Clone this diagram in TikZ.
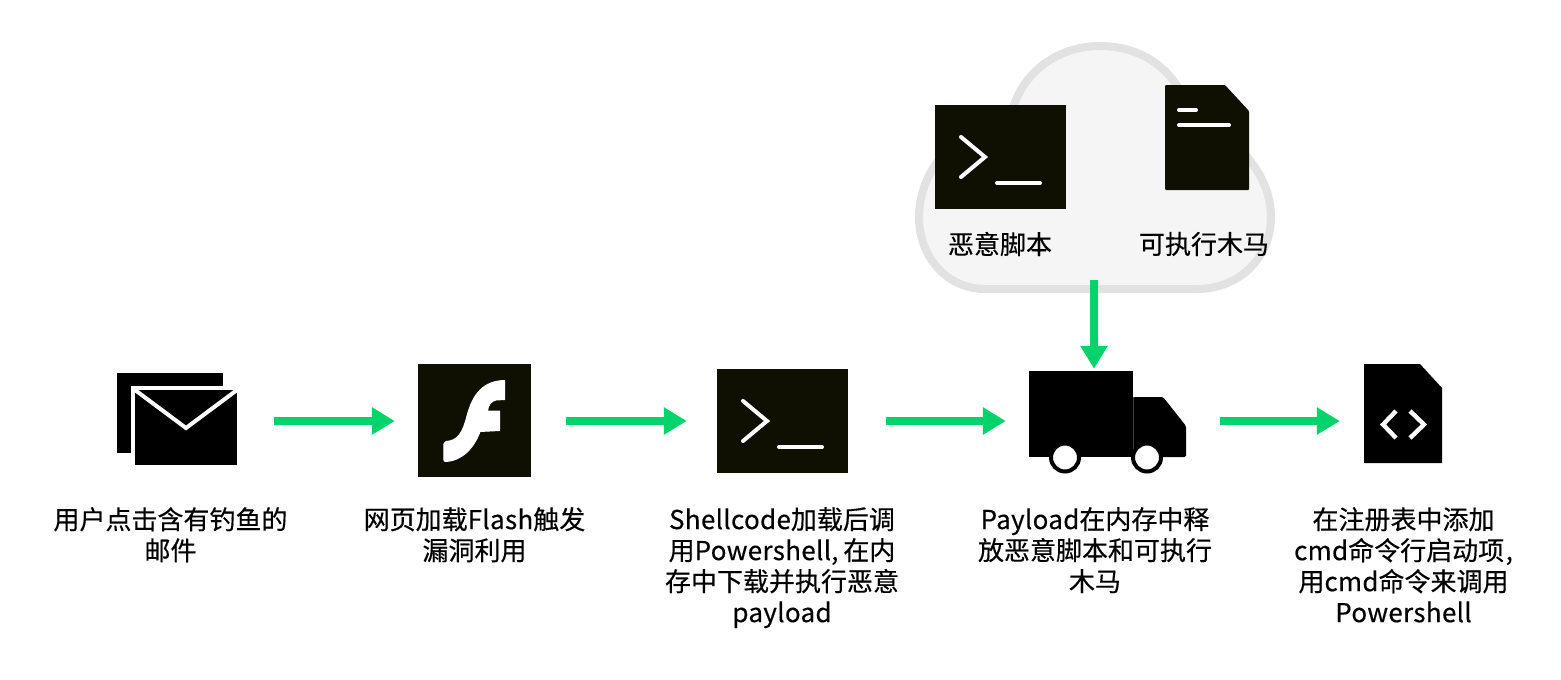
\documentclass[tikz,border=0pt]{standalone}
\usepackage{fontspec}
\setmainfont{Noto Sans CJK SC}[FakeBold=0.35]
\newcommand{\lat}[1]{{\addfontfeature{LetterSpace=1.2}#1}}
\usetikzlibrary{arrows.meta}
\definecolor{flowgreen}{HTML}{02D36B}
\definecolor{termdark}{HTML}{0F0F02}
\definecolor{cloudfill}{HTML}{F5F5F5}
\definecolor{cloudline}{HTML}{E2E2E2}
\tikzset{
  flow/.style={draw=flowgreen,line width=8pt,-{Triangle[length=23pt,width=26pt,fill=flowgreen]}},
  caption/.style={align=center,anchor=north,inner sep=0pt,font=\fontsize{26pt}{31pt}\selectfont,text=black},
  label/.style={inner sep=0pt,font=\fontsize{26pt}{31pt}\selectfont,text=black},
  term/.style={fill=termdark,draw=none,rectangle,inner sep=0pt,minimum width=131pt,minimum height=104pt},
  glyph/.style={draw=white,line width=4pt,line cap=round,line join=miter},
  wheel/.style={fill=white,draw=black,line width=4pt},
}
\begin{document}
\begin{tikzpicture}[x=1pt,y=-1pt]
\useasboundingbox (0,0) rectangle (1561,680);
% cloud
\draw[fill=cloudfill,draw=cloudline,line width=8pt]
  (985,289) .. controls (947,289) and (919,257) .. (919,217)
  .. controls (919,195) and (927,175) .. (940,158)
  .. controls (955,140) and (985,120) .. (1012,112)
  .. controls (1022,72) and (1058,46) .. (1100,46)
  .. controls (1135,46) and (1163,62) .. (1180,90)
  .. controls (1210,110) and (1235,135) .. (1248,158)
  .. controls (1262,175) and (1271,195) .. (1271,217)
  .. controls (1271,257) and (1240,289) .. (1197,289) -- cycle;
\node[inner sep=0pt,minimum width=360pt,minimum height=251pt] (cloud) at (1094,167.5) {};
% terminal in cloud
\node[term] (script) at (1000.5,157) {};
\draw[glyph] (961,137) -- (985,157) -- (961,177);
\draw[glyph] (997,183) -- (1040,183);
\node[label] (scriptlabel) at (1000,244) {恶意脚本};
% file in cloud
\fill[termdark,rounded corners=1pt] (1165,85) -- (1225,85) -- (1249,111) -- (1249,190) -- (1165,190) -- cycle;
\node[inner sep=0pt,minimum width=84pt,minimum height=105pt] (trojan) at (1207,137.5) {};
\draw[glyph] (1179,110) -- (1196,110);
\draw[glyph] (1179,125) -- (1229,125);
\node[label] (trojanlabel) at (1204,244) {可执行木马};
% mail
\fill[black] (117,373) rectangle (223,453);
\fill[white] (131,386) rectangle (241,469);
\node[fill=black,inner sep=0pt,minimum width=102pt,minimum height=75pt] (mail) at (186,427.5) {};
\draw[white,line width=4pt,line join=miter] (135,390) -- (186,428) -- (237,390);
% flash
\node[fill=termdark,inner sep=0pt,minimum width=113pt,minimum height=113pt] (flash) at (474.5,420.5) {};
\filldraw[white,line width=1pt,line join=round] (504.5,380.5) -- (504.5,399.5) -- (496,400)
  .. controls (491,401) and (488,405) .. (487.5,411) -- (499.5,411) -- (499.5,430.5) -- (480,431.5)
  .. controls (474,448) and (462,461) .. (445,461.5) -- (443.8,460) -- (443.8,444) -- (446,441.5)
  .. controls (458,441) and (463,432) .. (467,416)
  .. controls (473,393) and (484,381) .. (504.5,380.5) -- cycle;
% terminal main
\node[term] (shell) at (782.5,421) {};
\draw[glyph] (743,401) -- (767,421) -- (743,441);
\draw[glyph] (779,447) -- (822,447);
% truck
\fill[black,rounded corners=1.5pt] (1133,397) -- (1163,397) -- (1186,426) -- (1186,457) -- (1133,457) -- cycle;
\node[fill=black,inner sep=0pt,minimum width=104pt,minimum height=86pt] (truck) at (1081,414) {};
\draw[black!75,line width=.6pt] (1133,397) -- (1133,457);
\draw[wheel] (1065,457.5) circle (14pt);
\draw[wheel] (1147,457.5) circle (14pt);
% code doc
\fill[black] (1364,364) -- (1420,364) -- (1442,388) -- (1442,463) -- (1364,463) -- cycle;
\node[inner sep=0pt,minimum width=78pt,minimum height=99pt] (doc) at (1403,413.5) {};
\draw[glyph,line cap=butt,line width=4.4pt] (1396,411) -- (1383,424.5) -- (1396,438);
\draw[glyph,line cap=butt,line width=4.4pt] (1410,411) -- (1424,424.5) -- (1410,438);
% captions
\node[caption] (cap1) at (170.5,507) {用户点击含有钓鱼的\\邮件};
\node[caption] (cap2) at (474.5,507) {网页加载\lat{Flash}触发\\漏洞利用};
\node[caption] (cap3) at (782,507) {\lat{Shellcode}加载后调\\用\lat{Powershell},\hspace{5pt}在内\\存中下载并执行恶意\\\lat{payload}};
\node[caption] (cap4) at (1095,507) {\lat{Payload}在内存中释\\放恶意脚本和可执行\\木马};
\node[caption] (cap5) at (1403.5,507) {在注册表中添加\\\lat{cmd}命令行启动项\hspace{1.5pt},\\用\lat{cmd}命令来调用\\\lat{Powershell}};
% connectors
\coordinate (row) at (0,421);
\draw[flow] ([xshift=37pt]mail.east |- row) -- ([xshift=-23pt]flash.west |- row);
\draw[flow] ([xshift=35pt]flash.east |- row) -- ([xshift=-30pt]shell.west |- row);
\draw[flow] ([xshift=38pt]shell.east |- row) -- ([xshift=-23pt]truck.west |- row);
\draw[flow] ([xshift=87pt]truck.east |- row) -- ([xshift=-24pt]doc.west |- row);
\draw[flow,shorten >=2pt] ([yshift=13pt]cloud.south) -- (cloud.south |- truck.north);
\end{tikzpicture}
\end{document}
